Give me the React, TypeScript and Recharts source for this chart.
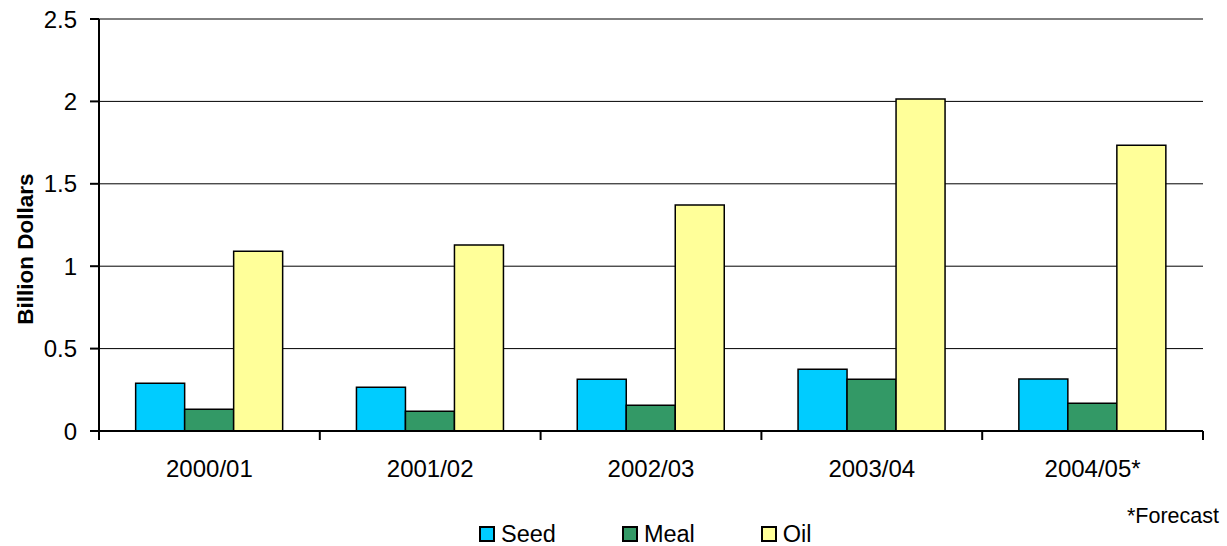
import React from 'react';
import { BarChart, Bar, XAxis, YAxis, CartesianGrid, Legend } from 'recharts';

const years = ['2000/01', '2001/02', '2002/03', '2003/04', '2004/05*'];
const seed = [0.289, 0.265, 0.314, 0.374, 0.316];
const meal = [0.132, 0.12, 0.156, 0.314, 0.168];
const oil = [1.09, 1.129, 1.371, 2.015, 1.734];
const yTicks = [0, 0.5, 1, 1.5, 2, 2.5];

const SERIES = [
  { key: 'seed', name: 'Seed', color: '#00CCFF' },
  { key: 'meal', name: 'Meal', color: '#339966' },
  { key: 'oil', name: 'Oil', color: '#FFFF99' },
];

const FONT = '"Liberation Sans", Arial, sans-serif';
const W = 1227;
const H = 546;
const PLOT_LEFT = 99;
const PLOT_RIGHT = 1203;
const BAND = (PLOT_RIGHT - PLOT_LEFT) / years.length;

const data = years.map((year, i) => ({
  year,
  seed: seed[i],
  meal: meal[i],
  oil: oil[i],
}));

// category label in the middle, tick mark on the category boundaries
const XTick = (props: any) => {
  const { x, y, payload, index } = props;
  return (
    <g>
      {index === 0 && (
        <line x1={x - BAND / 2} y1={y} x2={x - BAND / 2} y2={y + 9} stroke="#000" strokeWidth={2} />
      )}
      <line x1={x + BAND / 2} y1={y} x2={x + BAND / 2} y2={y + 9} stroke="#000" strokeWidth={2} />
      <text x={x} y={y + 46} textAnchor="middle" fontSize={24} fontFamily={FONT} fill="#000">
        {payload.value}
      </text>
    </g>
  );
};

const YLabel = () => (
  <text
    x={25}
    y={249}
    transform="rotate(-90, 25, 249)"
    textAnchor="middle"
    dominantBaseline="central"
    fontSize={22.5}
    fontWeight="bold"
    fontFamily={FONT}
    fill="#000"
  >
    Billion Dollars
  </text>
);

const LegendContent = () => (
  <div style={{ height: 21, display: 'flex', alignItems: 'flex-start', paddingLeft: 479, fontFamily: FONT }}>
    {SERIES.map((s, i) => (
      <div key={s.key} style={{ display: 'flex', alignItems: 'flex-start', marginRight: i < SERIES.length - 1 ? 66 : 0 }}>
        <span
          style={{
            width: 12,
            height: 12,
            marginTop: 1,
            border: '2px solid #000',
            background: s.color,
            display: 'inline-block',
          }}
        />
        <span style={{ marginLeft: 6, fontSize: 23.5, lineHeight: '18px', color: '#000' }}>{s.name}</span>
      </div>
    ))}
  </div>
);

export default function App() {
  return (
    <div style={{ position: 'absolute', left: 0, top: 0, width: W, height: H, background: '#fff' }}>
      <BarChart
        width={W}
        height={H}
        data={data}
        margin={{ top: 19, right: W - PLOT_RIGHT, left: 0, bottom: 0 }}
        barCategoryGap="16.6%"
        barGap={0}
      >
        <CartesianGrid vertical={false} stroke="#000" strokeWidth={1} />
        <XAxis
          dataKey="year"
          height={94}
          tickLine={false}
          tickSize={0}
          tickMargin={0}
          interval={0}
          axisLine={{ stroke: '#000', strokeWidth: 2 }}
          tick={<XTick />}
        />
        <YAxis
          width={PLOT_LEFT}
          domain={[0, 2.5]}
          ticks={yTicks}
          interval={0}
          tickSize={9}
          tickMargin={13}
          axisLine={{ stroke: '#000', strokeWidth: 2 }}
          tickLine={{ stroke: '#000', strokeWidth: 2 }}
          tick={{ fontSize: 24, fontFamily: FONT, fill: '#000' }}
          label={{ content: <YLabel /> }}
        />
        <Legend verticalAlign="bottom" align="left" content={<LegendContent />} />
        {SERIES.map((s) => (
          <Bar
            key={s.key}
            dataKey={s.key}
            name={s.name}
            fill={s.color}
            stroke="#000"
            strokeWidth={1.5}
            isAnimationActive={false}
          />
        ))}
      </BarChart>
      <div
        style={{
          position: 'absolute',
          right: 8,
          top: 506,
          fontSize: 21.5,
          lineHeight: '21.5px',
          fontFamily: FONT,
          color: '#000',
        }}
      >
        *Forecast
      </div>
    </div>
  );
}
